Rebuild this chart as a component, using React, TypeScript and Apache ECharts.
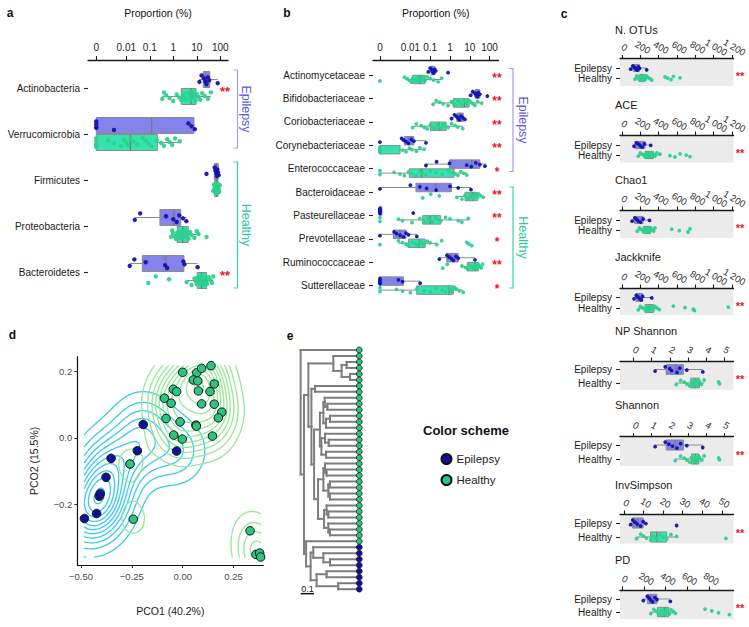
import React, { useEffect, useRef } from "react";
import * as echarts from "echarts";

// ---------------- DATA ----------------
// Panel a: phyla, proportions in %
const phyla = ["Actinobacteria", "Verrucomicrobia", "Firmicutes", "Proteobacteria", "Bacteroidetes"];
// box stats: [lower whisker, q1, median, q3, upper whisker]
const phylaEpiBox = [
  [12.6, 18.9, 24, 36, 78],
  [0, 0, 0.12, 7.6, 8.4],
  [50, 56, 70, 82, 90],
  [0.023, 0.27, 1.07, 2.07, 3.7],
  [0.014, 0.048, 0.47, 2.85, 10.9],
];
const phylaHeaBox = [
  [0.34, 2.2, 5.7, 9.3, 40],
  [0, 0, 0.015, 0.21, 1.9],
  [45, 58, 70, 80, 95],
  [0.8, 1.48, 2.5, 4.35, 13.7],
  [3.7, 10.5, 16, 26.5, 50],
];
const phylaEpiPts = [
  [13, 16, 20, 23, 26, 30, 34, 78],
  [0, 0, 0, 0, 0.003, 4.4, 6.0, 8.3],
  [26, 58, 63, 68, 72, 75, 80, 86],
  [0.023, 0.039, 0.49, 1.0, 1.4, 1.8, 2.6, 3.6],
  [0.014, 0.022, 0.067, 0.45, 0.55, 2.7, 3.0, 10.9],
];
const phylaHeaPts = [
  [0.34, 0.4, 0.5, 0.7, 1.0, 1.4, 1.8, 2.2, 2.6, 3.0, 3.5, 4.2, 5.0, 5.7, 6.2, 7, 8, 9, 10, 12, 14, 17, 22, 30, 40],
  [0, 0, 0, 0, 0, 0.0017, 0.003, 0.006, 0.008, 0.01, 0.012, 0.015, 0.02, 0.03, 0.05, 0.07, 0.09, 0.12, 0.2, 0.3, 0.4, 0.55, 0.7, 0.9, 1.2, 1.9],
  [50, 55, 58, 60, 62, 64, 65, 66, 68, 70, 71, 72, 74, 75, 76, 78, 80, 82, 84, 86, 90, 95],
  [0.8, 0.9, 1.0, 1.1, 1.3, 1.5, 1.6, 1.8, 2.0, 2.2, 2.4, 2.6, 2.8, 3.0, 3.3, 3.7, 4.0, 4.5, 5.2, 6, 8, 10, 12, 26],
  [0.086, 0.18, 0.66, 3.7, 6, 8, 9, 10, 11, 12, 13, 14, 15, 16, 17, 18, 20, 22, 24, 26, 28, 32, 38, 45, 50],
];
const phylaStars = ["**", "", "", "", "**"];

// Panel b: families, proportions in %
const families = [
  "Actinomycetaceae", "Bifidobacteriaceae", "Coriobacteriaceae", "Corynebacteriaceae", "Enterococcaceae",
  "Bacteroidaceae", "Pasteurellaceae", "Prevotellaceae", "Ruminococcaceae", "Sutterellaceae",
];
const famEpiBox = [
  [0.08, 0.11, 0.13, 0.17, 0.2],
  [11, 18.3, 24, 32.6, 40],
  [1.2, 2.2, 2.95, 4.7, 5.7],
  [0.0036, 0.0049, 0.0079, 0.015, 0.061],
  [0.061, 0.92, 12.5, 32, 71],
  [0, 0.019, 0.19, 1.2, 11.5],
  [0, 0, 0, 0, 0],
  [0, 0.0014, 0.003, 0.006, 0.021],
  [0.29, 0.68, 1.2, 2.6, 18.3],
  [0, 0, 0, 0.0044, 0.031],
];
const famHeaBox = [
  [0.0053, 0.013, 0.03, 0.055, 0.38],
  [0.14, 1.47, 5.3, 9.1, 40],
  [0.013, 0.1, 0.28, 0.63, 4.4],
  [0, 0, 0, 0.003, 0.049],
  [0, 0.0088, 0.037, 1.6, 7],
  [2.2, 5.7, 14, 24, 48],
  [0.0025, 0.042, 0.098, 0.34, 8.4],
  [0.0025, 0.0079, 0.028, 0.055, 0.21],
  [4, 7.5, 18, 27, 45],
  [0, 0.021, 0.89, 1.47, 4.7],
];
const famEpiPts = [
  [0.08, 0.1, 0.12, 0.13, 0.15, 0.17, 0.19, 0.8],
  [11, 14, 18, 21, 24, 27, 32, 77],
  [1.2, 1.7, 2.2, 2.6, 3.0, 3.6, 4.5, 5.7],
  [0, 0.0036, 0.0045, 0.006, 0.008, 0.011, 0.015, 0.061],
  [0.061, 0.21, 0.95, 7, 12, 20, 32, 58],
  [0, 0.01, 0.03, 0.066, 0.2, 1.0, 2.6, 11.5],
  [0, 0, 0, 0, 0, 0, 0, 0.014],
  [0, 0.0015, 0.002, 0.003, 0.0045, 0.006, 0.008, 0.021],
  [0.29, 0.7, 0.9, 1.2, 1.5, 2.0, 2.6, 18.3],
  [0, 0, 0, 0, 0, 0.0025, 0.004, 0.031],
];
const famHeaPts = [
  [0, 0.005, 0.007, 0.009, 0.011, 0.013, 0.016, 0.02, 0.024, 0.028, 0.032, 0.038, 0.045, 0.055, 0.07, 0.1, 0.15, 0.25, 0.38],
  [0.14, 0.2, 0.3, 0.45, 0.8, 1.2, 1.5, 2, 2.6, 3.3, 4.2, 5.3, 6.5, 8, 9, 11, 14, 18, 25, 40],
  [0.013, 0.02, 0.035, 0.05, 0.07, 0.1, 0.13, 0.17, 0.22, 0.28, 0.35, 0.45, 0.6, 0.8, 1.2, 1.8, 2.5, 4.4],
  [0, 0, 0, 0, 0, 0, 0.004, 0.006, 0.009, 0.012, 0.02, 0.03, 0.049],
  [0, 0, 0.0015, 0.003, 0.005, 0.008, 0.012, 0.02, 0.03, 0.04, 0.06, 0.1, 0.2, 0.4, 0.8, 1.3, 1.8, 2.5, 3.5, 5, 7],
  [0.042, 0.106, 0.29, 2.2, 4, 5.7, 7, 9, 11, 13, 15, 17, 20, 24, 28, 35, 48],
  [0, 0, 0.0025, 0.004, 0.012, 0.03, 0.045, 0.06, 0.08, 0.1, 0.13, 0.18, 0.25, 0.34, 0.6, 1.0, 2.6, 4, 8.4],
  [0, 0.0025, 0.004, 0.006, 0.008, 0.012, 0.018, 0.025, 0.03, 0.04, 0.05, 0.07, 0.1, 0.21, 0.38, 7, 9, 12.5],
  [0.43, 0.73, 4, 6, 8, 10, 13, 16, 18, 20, 23, 27, 32, 38, 45],
  [0, 0, 0.002, 0.004, 0.01, 0.021, 0.05, 0.1, 0.2, 0.4, 0.6, 0.85, 1.0, 1.3, 1.7, 2.2, 3, 4.7],
];
const famStars = ["**", "**", "**", "**", "*", "**", "**", "*", "**", "*"];

const propTickValues = [0, 0.01, 0.1, 1, 10, 100];
const propTickLabels = ["0", "0.01", "0.1", "1", "10", "100"];

// Panel c: alpha diversity
const alphaNames = ["N. OTUs", "ACE", "Chao1", "Jackknife", "NP Shannon", "Shannon", "InvSimpson", "PD"];
const alphaEpiBox = [
  [95, 123, 160, 189, 269],
  [131, 140, 196, 251, 313],
  [110, 136, 175, 230, 300],
  [131, 153, 189, 225, 324],
  [1.19, 1.8, 2.35, 2.75, 3.82],
  [1.19, 1.8, 2.3, 2.75, 3.82],
  [3.4, 4.4, 6.8, 9.8, 11.2],
  [193, 231, 262, 319, 443],
];
const alphaHeaBox = [
  [142, 189, 221, 251, 324],
  [178, 251, 287, 342, 414],
  [167, 232, 276, 313, 360],
  [178, 251, 298, 342, 407],
  [2.35, 3.16, 3.4, 3.64, 3.9],
  [2.3, 3.2, 3.4, 3.6, 3.9],
  [6.5, 13.6, 16.7, 21.8, 26.9],
  [262, 325, 387, 428, 490],
];
const alphaEpiPts = [
  [95, 118, 135, 150, 165, 180, 190, 269],
  [131, 160, 185, 200, 220, 245, 313],
  [110, 140, 160, 175, 200, 230, 300],
  [131, 155, 170, 190, 210, 225, 324],
  [1.19, 1.75, 2.0, 2.1, 2.4, 2.55, 2.94, 3.82],
  [1.19, 1.75, 1.95, 2.15, 2.4, 2.6, 2.94, 3.82],
  [3.4, 4.5, 5.6, 6.8, 8.5, 9.8, 11.2, 26.9],
  [193, 230, 248, 262, 280, 300, 319, 443],
];
const alphaHeaPts = [
  [142, 160, 175, 185, 195, 200, 210, 215, 220, 225, 232, 240, 248, 255, 265, 280, 300, 324, 469, 498, 534, 560, 633],
  [178, 200, 225, 245, 255, 265, 275, 285, 290, 300, 315, 330, 345, 360, 380, 414, 523, 578, 633, 700, 742],
  [167, 190, 210, 230, 240, 250, 262, 270, 280, 290, 300, 313, 330, 345, 360, 542, 625, 720, 742],
  [178, 200, 225, 250, 265, 280, 290, 300, 310, 325, 340, 360, 385, 407, 560, 687, 778, 790, 1159],
  [2.35, 2.6, 2.8, 2.95, 3.1, 3.2, 3.3, 3.35, 3.4, 3.45, 3.5, 3.6, 3.65, 3.75, 3.9, 4.7, 4.75],
  [2.3, 2.6, 2.8, 2.95, 3.1, 3.2, 3.3, 3.35, 3.4, 3.45, 3.5, 3.6, 3.65, 3.75, 3.9, 4.7, 4.75],
  [6.5, 8.6, 10, 11.5, 13.6, 14.8, 15.9, 17, 18.4, 20, 21.8, 24, 26.9, 52],
  [262, 290, 310, 330, 350, 365, 380, 395, 405, 420, 435, 450, 470, 490, 764, 827, 889, 990],
];
const otuTicks = [0, 200, 400, 600, 800, 1000, 1200];
const shannonTicks = [0, 1, 2, 3, 4, 5];
const invSimpTicks = [0, 10, 20, 30, 40, 50];
const pdTicks = [0, 200, 400, 600, 800];
const alphaTicks = [otuTicks, otuTicks, otuTicks, otuTicks, shannonTicks, shannonTicks, invSimpTicks, pdTicks];
const alphaMin = [-22, -22, -22, -22, -0.75, -0.75, -2, -23];
const alphaMax = [1216, 1216, 1216, 1216, 5.52, 5.52, 55.9, 1028];
const alphaStars = ["**", "**", "**", "**", "**", "**", "**", "**"];

// Panel d: PCoA
const pcoEpi = [
  [-0.194, 0.04], [-0.223, -0.039], [-0.352, -0.062], [-0.377, -0.119], [-0.41, -0.176],
  [-0.405, -0.168], [-0.423, -0.228], [-0.483, -0.243], [-0.03, -0.04],
];
const pcoHea = [
  [0.0, 0.197], [0.069, 0.196], [0.093, 0.209], [0.139, 0.217], [0.052, 0.174], [0.074, 0.171],
  [0.155, 0.162], [-0.046, 0.146], [-0.03, 0.139], [0.077, 0.141], [0.134, 0.139], [-0.09, 0.119],
  [-0.057, 0.104], [0.093, 0.102], [0.155, 0.101], [0.192, 0.077], [0.175, 0.06], [-0.082, 0.058],
  [-0.013, 0.048], [0.065, 0.038], [0.067, 0.035], [-0.044, 0.008], [-0.002, -0.004], [0.146, 0.005],
  [-0.259, -0.079], [-0.243, -0.245], [0.331, -0.28], [0.36, -0.351], [0.378, -0.347], [0.383, -0.359],
];
const pcoXTicks = [-0.5, -0.25, 0, 0.25];
const pcoYTicks = [-0.2, 0, 0.2];

// Panel e: dendrogram ([height, left, right]; leaves are indices)
const tree: any = [0.441, 0,
  [0.416,
    [0.383,
      [0.195, 1, [0.133, [0.095, 2, 3], [0.07, 4, 5]]],
      [0.36,
        [0.333, 6, 7],
        [0.34,
          [0.296,
            [0.27, [0.26, 8, [0.24, 9, 10]], [0.25, [0.22, 11, 12], 13]],
            [0.285, [0.258, 14, [0.23, 15, 16]], [0.25, 17, 18]]],
          [0.31,
            [0.27, [0.258, 19, [0.246, 20, 21]], [0.233, [0.221, 22, 23], [0.22, 24, 25]]],
            [0.265, [0.246, 26, [0.233, 27, 28]], [0.233, 29, [0.221, 30, 31]]]]]]],
    [0.4, 32,
      [0.366,
        [0.346, 33, [0.27, 34, [0.22, 35, 36]]],
        [0.321, [0.246, 37, 38], [0.158, 39, 40]]]]]];
const leafGroup = "HHHHHHHHHHHHHHHHHHHHHHHHHHHHHHHHHEEEEEEEE";

// ---------------- STYLE ----------------
const FONT = "'Liberation Sans', Arial, sans-serif";
const EPI_PT = "#1212b2";
const HEA_PT = "#2bd28d";
const EPI_BOX = "#8383ea";
const HEA_BOX = "#36e2b0";
const STAR = "#f0141e";
const EPI_D = "#10109e";
const HEA_D = "#2cc47f";
const EPI_CONT = "#3ccaf0";
const HEA_CONT = "#96e896";

const A_ZERO = -3.28;
const B_ZERO = -3.54;
const Ta = (v: number) => (v > 0 ? Math.log10(v) : A_ZERO);
const Tb = (v: number) => (v > 0 ? Math.log10(v) : B_ZERO);
const Tid = (v: number) => v;
const jitter = (k: number) => ((k * 53 + 17) % 23) / 11 - 1;
const thousands = (v: number) => (v >= 1000 ? `${Math.floor(v / 1000)} ${String(v % 1000).padStart(3, "0")}` : String(v));

function boxRenderer(items: any[], T: (v: number) => number, o: any) {
  return (params: any, api: any) => {
    const it = items[params.dataIndex];
    const base = api.coord([T(it.box[2]), it.row])[1];
    const cy = base + (it.g === 0 ? -o.off : o.off);
    const X = (v: number) => api.coord([T(v), it.row])[0];
    const [lo, q1, md, q3, hi] = it.box;
    const c = it.g === 0 ? { box: EPI_BOX, pt: EPI_PT } : { box: HEA_BOX, pt: HEA_PT };
    const hb = o.boxH / 2;
    const ls = { stroke: "#8c8c8c", lineWidth: 1 };
    const x1 = X(q1);
    const x3 = X(q3);
    const w = Math.max(x3 - x1, 2);
    const ch: any[] = [
      { type: "line", shape: { x1: X(lo), y1: cy, x2: x1, y2: cy }, style: ls },
      { type: "line", shape: { x1: x3, y1: cy, x2: X(hi), y2: cy }, style: ls },
      { type: "rect", shape: { x: x1, y: cy - hb, width: w, height: o.boxH }, style: { fill: c.box, stroke: "#8c8c8c", lineWidth: 1 } },
      { type: "line", shape: { x1: X(md), y1: cy - hb, x2: X(md), y2: cy + hb }, style: { stroke: "#7a7a7a", lineWidth: 1.3 } },
    ];
    it.pts.forEach((v: number, k: number) =>
      ch.push({ type: "circle", shape: { cx: X(v), cy: cy + jitter(k) * o.jit, r: o.r }, style: { fill: c.pt, opacity: 0.95 } })
    );
    if (it.star) {
      const sy = api.coord([T(it.box[2]), it.starRow])[1];
      ch.push({
        type: "text", x: o.starX, y: sy + o.starDy,
        style: { text: it.star, fill: STAR, font: `bold ${o.starSize}px Arial, sans-serif`, align: "center", verticalAlign: "middle" },
      });
    }
    return { type: "group", children: ch };
  };
}

function nearestLabel(v: number, vals: number[], labels: string[]) {
  let b = 0;
  for (let i = 1; i < vals.length; i++) if (Math.abs(vals[i] - v) < Math.abs(vals[b] - v)) b = i;
  return labels[b];
}

function propAxis(gridIndex: number, min: number, max: number, T: (v: number) => number, offset: number) {
  const tv = propTickValues.map(T);
  return {
    gridIndex, type: "value", position: "top", offset, min, max,
    axisLine: { show: true, onZero: false, lineStyle: { color: "#1a1a1a", width: 1.3 } },
    axisTick: { show: true, customValues: tv, length: 4, lineStyle: { color: "#1a1a1a", width: 1.1 } },
    axisLabel: {
      show: true, customValues: tv, formatter: (v: number) => nearestLabel(v, tv, propTickLabels),
      fontSize: 10, color: "#222", margin: 8, fontFamily: FONT, hideOverlap: false, showMinLabel: true, showMaxLabel: true,
    },
    splitLine: { show: false },
    name: "Proportion (%)", nameLocation: "middle", nameGap: 42,
    nameTextStyle: { fontSize: 10.5, color: "#111", fontFamily: FONT },
  };
}

function rowAxis(gridIndex: number, min: number, max: number, vals: number[], labels: string[], fontSize: number) {
  return {
    gridIndex, type: "value", inverse: true, min, max,
    axisLine: { show: false, onZero: false },
    axisTick: { show: true, customValues: vals, length: 4, lineStyle: { color: "#222", width: 1.1 } },
    axisLabel: {
      show: true, customValues: vals, formatter: (v: number) => nearestLabel(v, vals, labels), fontSize, color: "#1a1a1a",
      margin: 8, fontFamily: FONT, hideOverlap: false, showMinLabel: true, showMaxLabel: true,
    },
    splitLine: { show: false },
  };
}

// ---- KDE + contours (as ggplot2 stat_density_2d) ----
function bwNrd(v: number[]) {
  const n = v.length;
  const m = v.reduce((a, b) => a + b, 0) / n;
  const sd = Math.sqrt(v.reduce((a, b) => a + (b - m) * (b - m), 0) / (n - 1));
  const s = [...v].sort((a, b) => a - b);
  const q = (p: number) => {
    const h = (n - 1) * p;
    const lo = Math.floor(h);
    const hi = Math.min(lo + 1, n - 1);
    return s[lo] + (h - lo) * (s[hi] - s[lo]);
  };
  const iqr = (q(0.75) - q(0.25)) / 1.34;
  return 4 * 1.06 * Math.min(sd, iqr) * Math.pow(n, -0.2);
}
function kde2d(pts: number[][], xl: number[], yl: number[], N: number) {
  const hx = bwNrd(pts.map((p) => p[0])) / 4;
  const hy = bwNrd(pts.map((p) => p[1])) / 4;
  const gx = Array.from({ length: N }, (_, i) => xl[0] + ((xl[1] - xl[0]) * i) / (N - 1));
  const gy = Array.from({ length: N }, (_, i) => yl[0] + ((yl[1] - yl[0]) * i) / (N - 1));
  const z = gx.map((x) =>
    gy.map((y) => {
      let s = 0;
      for (const p of pts) {
        const ax = (x - p[0]) / hx;
        const ay = (y - p[1]) / hy;
        s += Math.exp(-0.5 * (ax * ax + ay * ay));
      }
      return s / (2 * Math.PI * pts.length * hx * hy);
    })
  );
  return { gx, gy, z };
}
function pretty(lo: number, hi: number, n: number) {
  const cell = (hi - lo) / n;
  const U = Math.pow(10, Math.floor(Math.log10(cell)));
  let unit = U;
  if (2 * U - cell < 1.5 * (cell - unit)) {
    unit = 2 * U;
    if (5 * U - cell < 2.75 * (cell - unit)) {
      unit = 5 * U;
      if (10 * U - cell < 1.5 * (cell - unit)) unit = 10 * U;
    }
  }
  const out: number[] = [];
  for (let v = Math.floor(lo / unit) * unit; v <= Math.ceil(hi / unit) * unit + 1e-12; v += unit) out.push(v);
  return out;
}
function isoSegments(d: any, lv: number) {
  const { gx, gy, z } = d;
  const segs: number[][] = [];
  for (let i = 0; i < gx.length - 1; i++) {
    for (let j = 0; j < gy.length - 1; j++) {
      const v = [z[i][j], z[i + 1][j], z[i + 1][j + 1], z[i][j + 1]];
      const ab = v.map((a) => a >= lv);
      const px = [gx[i], gx[i + 1], gx[i + 1], gx[i]];
      const py = [gy[j], gy[j], gy[j + 1], gy[j + 1]];
      const edgePt = (e: number) => {
        const a = e;
        const b = (e + 1) % 4;
        const t = (lv - v[a]) / (v[b] - v[a]);
        return [px[a] + t * (px[b] - px[a]), py[a] + t * (py[b] - py[a])];
      };
      const crossed: number[] = [];
      for (let e = 0; e < 4; e++) if (ab[e] !== ab[(e + 1) % 4]) crossed.push(e);
      if (crossed.length === 2) {
        const p = edgePt(crossed[0]);
        const q = edgePt(crossed[1]);
        segs.push([p[0], p[1], q[0], q[1]]);
      } else if (crossed.length === 4) {
        const center = (v[0] + v[1] + v[2] + v[3]) / 4 >= lv;
        const pairs = center === ab[0] ? [[0, 1], [2, 3]] : [[3, 0], [1, 2]];
        for (const [e1, e2] of pairs) {
          const p = edgePt(e1);
          const q = edgePt(e2);
          segs.push([p[0], p[1], q[0], q[1]]);
        }
      }
    }
  }
  return segs;
}

function treeLayout(node: any, segs: number[][]): { x: number; y: number } {
  if (typeof node === "number") return { x: 0, y: node };
  const [h, l, r] = node;
  const a = treeLayout(l, segs);
  const b = treeLayout(r, segs);
  const x = -h;
  const y = (a.y + b.y) / 2;
  segs.push([x, a.y, x, b.y]);
  segs.push([x, a.y, a.x, a.y]);
  segs.push([x, b.y, b.x, b.y]);
  return { x, y };
}

function buildOption() {
  const grids: any[] = [];
  const xAxes: any[] = [];
  const yAxes: any[] = [];
  const series: any[] = [];
  const gfx: any[] = [];
  const gbase = { outerBoundsMode: "none", containLabel: false };

  // ---- panel a (grid 0)
  grids.push({ ...gbase, left: 88, top: 65, width: 140, height: 230 });
  xAxes.push(propAxis(0, -3.63, 2.33, Ta, 5));
  yAxes.push(rowAxis(0, -0.5, 4.5, phyla.map((_, i) => i), phyla, 10));
  const aItems: any[] = [];
  phyla.forEach((_, i) => {
    aItems.push({ row: i, g: 0, box: phylaEpiBox[i], pts: phylaEpiPts[i], star: phylaStars[i], starRow: i });
    aItems.push({ row: i, g: 1, box: phylaHeaBox[i], pts: phylaHeaPts[i] });
  });
  series.push({
    type: "custom", name: "boxA", xAxisIndex: 0, yAxisIndex: 0, silent: true, clip: false,
    data: aItems.map((it) => [Ta(it.box[2]), it.row]), encode: { x: 0, y: 1 },
    renderItem: boxRenderer(aItems, Ta, { off: 8.5, boxH: 16, r: 2.2, jit: 4.5, starX: 225, starDy: 3, starSize: 13 }),
  });

  // ---- panel b (grid 1)
  grids.push({ ...gbase, left: 373, top: 63.3, width: 125.5, height: 234 });
  xAxes.push(propAxis(1, -3.89, 2.45, Tb, 3.3));
  yAxes.push(rowAxis(1, -0.5, 9.5, families.map((_, i) => i), families, 10));
  const bItems: any[] = [];
  families.forEach((_, i) => {
    bItems.push({ row: i, g: 0, box: famEpiBox[i], pts: famEpiPts[i], star: famStars[i], starRow: i });
    bItems.push({ row: i, g: 1, box: famHeaBox[i], pts: famHeaPts[i] });
  });
  series.push({
    type: "custom", name: "boxB", xAxisIndex: 1, yAxisIndex: 1, silent: true, clip: false,
    data: bItems.map((it) => [Tb(it.box[2]), it.row]), encode: { x: 0, y: 1 },
    renderItem: boxRenderer(bItems, Tb, { off: 4.5, boxH: 8.5, r: 1.9, jit: 2.6, starX: 497, starDy: 3, starSize: 12 }),
  });

  // ---- panel c (grids 2..9)
  const cLayout = [
    [58.5, 68, 78, 86, 31.5],
    [135, 145, 155, 162.5, 106.5],
    [210, 220, 230, 238, 181.5],
    [288, 297.5, 308.5, 315, 258.5],
    [361, 369.5, 383, 390, 332.5],
    [436.5, 445, 459, 466, 406.5],
    [514, 523, 537, 543.5, 486],
    [590, 599, 612, 619, 561.5],
  ];
  alphaNames.forEach((name, k) => {
    const gi = 2 + k;
    const [top, r1, r2, bottom, ty] = cLayout[k];
    const u = r2 - r1;
    const yMin = 1 - (r1 - top) / u;
    grids.push({ ...gbase, left: 620, top, width: 113.5, height: bottom - top, show: true, backgroundColor: "#ebebeb", borderWidth: 0, borderColor: "transparent" });
    const ticks = alphaTicks[k];
    xAxes.push({
      gridIndex: gi, type: "value", position: "top", min: alphaMin[k], max: alphaMax[k],
      axisLine: { show: true, onZero: false, lineStyle: { color: "#1a1a1a", width: 1.3 } },
      axisTick: { show: true, customValues: ticks, length: 3.5, lineStyle: { color: "#1a1a1a", width: 1.1 } },
      axisLabel: { show: false },
      splitLine: { show: false },
    });
    yAxes.push(rowAxis(gi, yMin, 2 + (bottom - r2) / u, [1, 2], ["Epilepsy", "Healthy"], 10));
    const items = [
      { row: 1, g: 0, box: alphaEpiBox[k], pts: alphaEpiPts[k], star: alphaStars[k], starRow: 1.5 },
      { row: 2, g: 1, box: alphaHeaBox[k], pts: alphaHeaPts[k] },
    ];
    series.push({
      type: "custom", name: "alpha" + k, xAxisIndex: gi, yAxisIndex: gi, silent: true, clip: false,
      data: items.map((it) => [it.box[2], it.row]), encode: { x: 0, y: 1 },
      renderItem: boxRenderer(items, Tid, { off: 0, boxH: u * 0.72, r: 1.9, jit: u * 0.22, starX: 740, starDy: 2.5, starSize: 11 }),
    });
    // rotated tick labels, placed through the axis scale
    series.push({
      type: "custom", name: "alphaTicks" + k, xAxisIndex: gi, yAxisIndex: gi, silent: true, clip: false,
      data: ticks.map((v) => [v, yMin]), encode: { x: 0, y: 1 },
      renderItem: (params: any, api: any) => {
        const v = ticks[params.dataIndex];
        const p = api.coord([v, yMin]);
        return {
          type: "text", x: p[0], y: p[1] - 7, rotation: -Math.PI / 6,
          style: { text: thousands(v), fill: "#333", font: `9.5px ${FONT}`, align: "center", verticalAlign: "bottom" },
        };
      },
    });
    gfx.push({ type: "text", left: 615, top: ty - 7, style: { text: name, fill: "#1a1a1a", font: `11px ${FONT}` } });
  });

  // ---- panel d (grid 10)
  grids.push({ ...gbase, left: 77.3, top: 356.7, width: 186, height: 208.3 });
  const fmt = (dec: number) => (v: number) => (v < -1e-9 ? "\u2212" : "") + Math.abs(v).toFixed(dec);
  xAxes.push({
    gridIndex: 10, type: "value", position: "bottom", min: -0.518, max: 0.396,
    axisLine: { show: true, onZero: false, lineStyle: { color: "#111", width: 1.2 } },
    axisTick: { show: true, customValues: pcoXTicks, length: 3, lineStyle: { color: "#333" } },
    axisLabel: { show: true, customValues: pcoXTicks, formatter: fmt(2), fontSize: 9.5, color: "#4d4d4d", margin: 6, fontFamily: FONT, hideOverlap: false },
    splitLine: { show: false },
    name: "PCO1 (40.2%)", nameLocation: "middle", nameGap: 40, nameTextStyle: { fontSize: 10.5, color: "#222", fontFamily: FONT },
  });
  yAxes.push({
    gridIndex: 10, type: "value", min: -0.383, max: 0.244,
    axisLine: { show: true, onZero: false, lineStyle: { color: "#111", width: 1.2 } },
    axisTick: { show: true, customValues: pcoYTicks, length: 3, lineStyle: { color: "#333" } },
    axisLabel: { show: true, customValues: pcoYTicks, formatter: fmt(1), fontSize: 9.5, color: "#4d4d4d", margin: 5, fontFamily: FONT, hideOverlap: false },
    splitLine: { show: false },
    name: "PCO2 (15.5%)", nameLocation: "middle", nameGap: 38, nameRotate: 90, nameTextStyle: { fontSize: 10.5, color: "#222", fontFamily: FONT },
  });
  const all = [...pcoEpi, ...pcoHea];
  const xl = [Math.min(...all.map((p) => p[0])), Math.max(...all.map((p) => p[0]))];
  const yl = [Math.min(...all.map((p) => p[1])), Math.max(...all.map((p) => p[1]))];
  const dE = kde2d(pcoEpi, xl, yl, 100);
  const dH = kde2d(pcoHea, xl, yl, 100);
  let zmin = Infinity;
  let zmax = -Infinity;
  for (const d of [dE, dH]) for (const col of d.z) for (const v of col) { zmin = Math.min(zmin, v); zmax = Math.max(zmax, v); }
  const breaks = pretty(zmin, zmax, 10);
  const cItems: any[] = [];
  ([[dE, EPI_CONT], [dH, HEA_CONT]] as any[]).forEach(([d, col]) => {
    breaks.forEach((lv) => {
      if (lv <= zmin) return;
      const segs = isoSegments(d, lv);
      if (segs.length) cItems.push({ segs, col });
    });
  });
  series.push({
    type: "custom", name: "contours", xAxisIndex: 10, yAxisIndex: 10, silent: true, z: 1,
    data: cItems.map((it) => [it.segs[0][0], it.segs[0][1]]), encode: { x: 0, y: 1 },
    renderItem: (params: any, api: any) => {
      const it = cItems[params.dataIndex];
      let p = "";
      for (const s of it.segs) {
        const a = api.coord([s[0], s[1]]);
        const b = api.coord([s[2], s[3]]);
        p += `M${a[0].toFixed(2)} ${a[1].toFixed(2)}L${b[0].toFixed(2)} ${b[1].toFixed(2)}`;
      }
      return { type: "path", shape: { pathData: p }, style: { stroke: it.col, fill: "none", lineWidth: 1.3, lineCap: "round" } };
    },
  });
  series.push({
    type: "scatter", name: "Epilepsy", xAxisIndex: 10, yAxisIndex: 10, data: pcoEpi, symbolSize: 8.5, z: 3, silent: true,
    itemStyle: { color: EPI_D, borderColor: "#111", borderWidth: 1, opacity: 1 },
  });
  series.push({
    type: "scatter", name: "Healthy", xAxisIndex: 10, yAxisIndex: 10, data: pcoHea, symbolSize: 8.5, z: 3, silent: true,
    itemStyle: { color: HEA_D, borderColor: "#111", borderWidth: 1, opacity: 1 },
  });

  // ---- panel e (grid 11)
  grids.push({ ...gbase, left: 293, top: 344, width: 72, height: 252 });
  xAxes.push({ gridIndex: 11, type: "value", min: -0.4985, max: 0.043, show: false });
  yAxes.push({ gridIndex: 11, type: "value", inverse: true, min: -1.003, max: 41.14, show: false });
  const tSegs: number[][] = [];
  treeLayout(tree, tSegs);
  series.push({
    type: "custom", name: "tree", xAxisIndex: 11, yAxisIndex: 11, silent: true, clip: false,
    data: [[0, 0]], encode: { x: 0, y: 1 },
    renderItem: (params: any, api: any) => {
      const ch: any[] = [];
      for (const s of tSegs) {
        const a = api.coord([s[0], s[1]]);
        const b = api.coord([s[2], s[3]]);
        ch.push({ type: "line", shape: { x1: a[0], y1: a[1], x2: b[0], y2: b[1] }, style: { stroke: "#7d7d7d", lineWidth: 2, lineCap: "square" } });
      }
      for (let i = 0; i < leafGroup.length; i++) {
        const c = api.coord([0, i]);
        ch.push({ type: "circle", shape: { cx: c[0], cy: c[1], r: 2.9 }, style: { fill: leafGroup[i] === "E" ? EPI_D : HEA_D, stroke: "#1a1a1a", lineWidth: 0.8 } });
      }
      const s1 = api.coord([-0.44, 40.75]);
      const s2 = api.coord([-0.34, 40.75]);
      ch.push({ type: "line", shape: { x1: s1[0], y1: s1[1], x2: s2[0], y2: s2[1] }, style: { stroke: "#111", lineWidth: 1.5 } });
      const st = api.coord([-0.39, 40.05]);
      ch.push({ type: "text", x: st[0], y: st[1], style: { text: "0.1", fill: "#222", font: `9px ${FONT}`, align: "center", verticalAlign: "middle" } });
      return { type: "group", children: ch };
    },
  });

  // ---- graphics: panel letters, brackets, legend title
  const letter = (t: string, x: number, y: number) => ({ type: "text", x, y, style: { text: t, fill: "#111", font: "bold 12px Arial, sans-serif", align: "center", verticalAlign: "middle" } });
  gfx.push(letter("a", 10, 12.5), letter("b", 287, 12.5), letter("c", 564, 13.5), letter("d", 12.5, 335), letter("e", 290, 336));
  const bracket = (x: number, y1: number, y2: number, col: string, label: string, tcol: string, tx: number) => [
    { type: "polyline", shape: { points: [[x - 4, y1], [x, y1], [x, y2], [x - 4, y2]] }, style: { stroke: col, lineWidth: 1.2, fill: "none" } },
    { type: "text", x: tx, y: (y1 + y2) / 2, rotation: -Math.PI / 2, style: { text: label, fill: tcol, font: `12.5px ${FONT}`, align: "center", verticalAlign: "middle" } },
  ];
  gfx.push(...bracket(237.5, 70, 148, "#a0a0ea", "Epilepsy", "#5c5cd8", 246));
  gfx.push(...bracket(237.5, 162, 288, "#36d9aa", "Healthy", "#27cc9c", 246));
  gfx.push(...bracket(513, 68.5, 171.5, "#a0a0ea", "Epilepsy", "#5c5cd8", 523));
  gfx.push(...bracket(513, 187, 288, "#36d9aa", "Healthy", "#27cc9c", 523));
  gfx.push({ type: "text", left: 423, top: 424, style: { text: "Color scheme", fill: "#111", font: `bold 13px ${FONT}` } });

  return {
    animation: false,
    backgroundColor: "#ffffff",
    textStyle: { fontFamily: FONT },
    grid: grids,
    xAxis: xAxes,
    yAxis: yAxes,
    series,
    legend: {
      data: ["Epilepsy", "Healthy"], orient: "vertical", left: 440.5, top: 453, itemWidth: 10, itemHeight: 10, itemGap: 9,
      icon: "circle", selectedMode: false, padding: 0,
      textStyle: { fontSize: 11.5, color: "#222", fontFamily: FONT },
    },
    graphic: { elements: gfx },
  };
}

export default function App() {
  const ref = useRef<HTMLDivElement>(null);
  useEffect(() => {
    document.body.style.margin = "0";
    const chart = echarts.init(ref.current as HTMLDivElement, null, { renderer: "svg" });
    chart.setOption(buildOption() as any);
    return () => chart.dispose();
  }, []);
  return <div ref={ref} style={{ width: 749, height: 627 }} />;
}
